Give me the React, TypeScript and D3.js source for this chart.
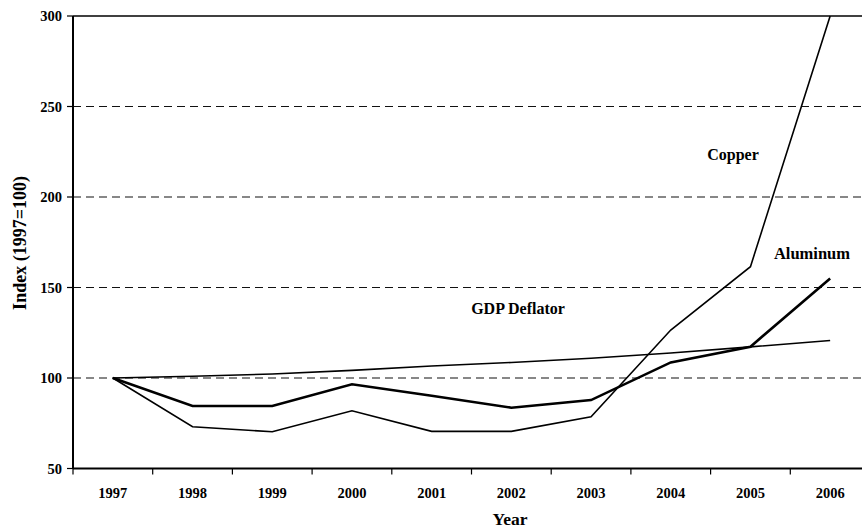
import React from "react";
import * as d3 from "d3";

const years = ["1997", "1998", "1999", "2000", "2001", "2002", "2003", "2004", "2005", "2006"];
const gdpDeflator = [100, 101, 102.2, 104.2, 106.6, 108.6, 110.9, 113.8, 117.2, 120.7];
const aluminum = [100, 84.5, 84.5, 96.5, 90.2, 83.6, 87.8, 108.6, 117.3, 155];
const copper = [100, 73.1, 70.3, 81.9, 70.5, 70.5, 78.6, 126.5, 161.5, 300];
const yTicks = [50, 100, 150, 200, 250, 300];
const gridTicks = [100, 150, 200, 250];

const W = 862;
const H = 531;
const left = 73;
const top = 16;
const right = 870;
const bottom = 468.5;
const font = "'Times New Roman', Times, 'Liberation Serif', serif";

export default function App() {
  const x = d3.scaleBand<string>().domain(years).range([left, right]).paddingInner(0).paddingOuter(0);
  const y = d3.scaleLinear().domain([50, 300]).range([bottom, top]);
  const cx = (i: number) => (x(years[i]) as number) + x.bandwidth() / 2;
  const line = d3
    .line<number>()
    .x((_, i) => cx(i))
    .y((d) => y(d));

  const txt = { fontFamily: font, fontWeight: 700 as const };

  return (
    <svg
      width={W}
      height={H}
      style={{ position: "absolute", left: 0, top: 0, background: "#fff" }}
    >
      <rect x={0} y={0} width={W} height={H} fill="#fff" />
      {gridTicks.map((t) => (
        <line
          key={"g" + t}
          x1={left}
          x2={right}
          y1={y(t)}
          y2={y(t)}
          stroke="#111"
          strokeWidth={1.1}
          strokeDasharray="8,5"
        />
      ))}
      <line x1={left} x2={right} y1={y(300)} y2={y(300)} stroke="#000" strokeWidth={1.5} />
      <line x1={left} x2={left} y1={top} y2={bottom} stroke="#000" strokeWidth={2} />
      <line x1={left} x2={right} y1={bottom} y2={bottom} stroke="#000" strokeWidth={2} />
      {yTicks.map((t) => (
        <g key={"y" + t}>
          <line x1={left - 6} x2={left} y1={y(t)} y2={y(t)} stroke="#000" strokeWidth={1.2} />
          <text x={left - 11} y={y(t)} dy="0.35em" textAnchor="end" fontSize={14.5} fill="#000" style={txt}>
            {t}
          </text>
        </g>
      ))}
      {years.map((yr, i) => (
        <g key={yr}>
          <line
            x1={(x(yr) as number) + x.bandwidth()}
            x2={(x(yr) as number) + x.bandwidth()}
            y1={bottom}
            y2={bottom + 6}
            stroke="#000"
            strokeWidth={1.2}
          />
          <text x={cx(i)} y={498} textAnchor="middle" fontSize={14.5} fill="#000" style={txt}>
            {yr}
          </text>
        </g>
      ))}
      <line x1={left} x2={left} y1={bottom} y2={bottom + 6} stroke="#000" strokeWidth={1.2} />

      <path d={line(gdpDeflator) || ""} fill="none" stroke="#000" strokeWidth={1.6} />
      <path d={line(copper) || ""} fill="none" stroke="#000" strokeWidth={1.6} />
      <path d={line(aluminum) || ""} fill="none" stroke="#000" strokeWidth={2.6} />

      <text x={733} y={160} textAnchor="middle" fontSize={16} fill="#000" style={txt}>
        Copper
      </text>
      <text x={812} y={259} textAnchor="middle" fontSize={16.5} fill="#000" style={txt}>
        Aluminum
      </text>
      <text x={518} y={314} textAnchor="middle" fontSize={16} fill="#000" style={txt}>
        GDP Deflator
      </text>
      <text
        transform={`translate(26,243) rotate(-90)`}
        textAnchor="middle"
        fontSize={18}
        fill="#000"
        style={txt}
      >
        Index (1997=100)
      </text>
      <text x={510} y={525} textAnchor="middle" fontSize={17.5} fill="#000" style={txt}>
        Year
      </text>
    </svg>
  );
}
